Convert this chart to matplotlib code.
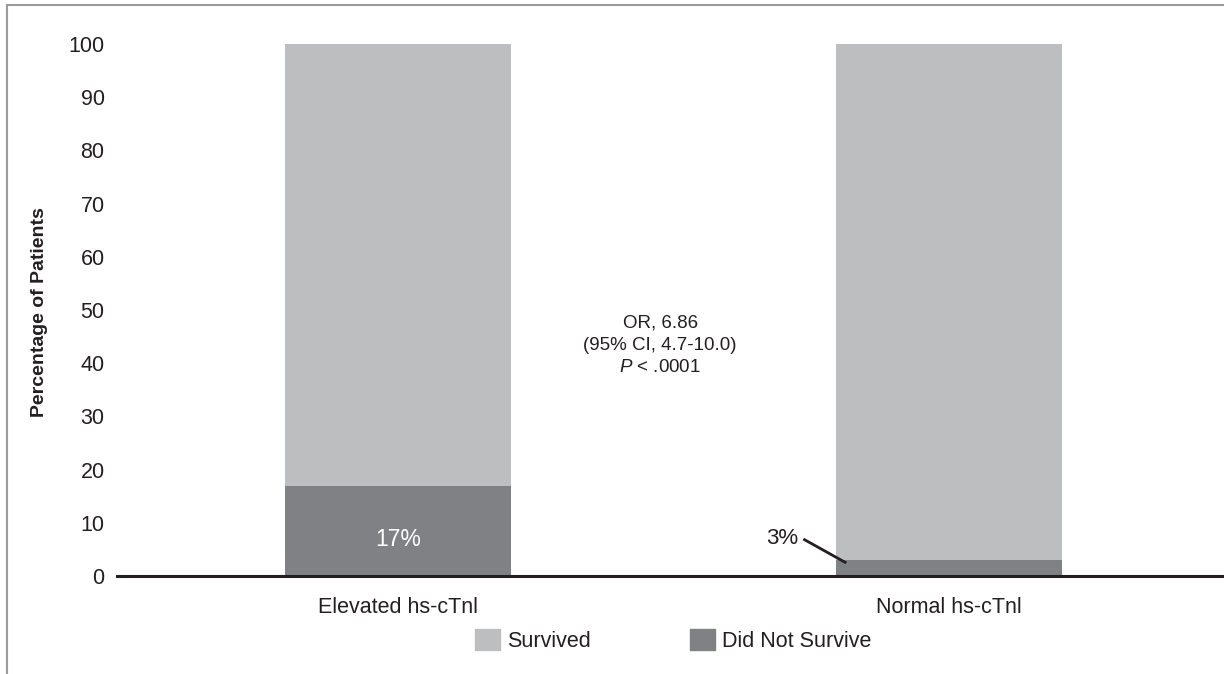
import matplotlib
matplotlib.use('Agg')
import matplotlib.pyplot as plt
from matplotlib.lines import Line2D
from matplotlib.patches import Patch

plt.rcParams['font.family'] = ['Liberation Sans', 'DejaVu Sans']
plt.rcParams['mathtext.fontset'] = 'custom'
plt.rcParams['mathtext.it'] = 'Liberation Sans:italic'
plt.rcParams['mathtext.rm'] = 'Liberation Sans'

# Mortality by troponin group (percent of patients)
groups = ['Elevated hs-cTnl', 'Normal hs-cTnl']
did_not_survive = [17, 3]
survived = [83, 97]
yticks = [0, 10, 20, 30, 40, 50, 60, 70, 80, 90, 100]

c_surv = '#bdbec0'
c_died = '#808184'
c_text = '#231f20'

fig = plt.figure(figsize=(12.24, 6.74), dpi=100)
ax = fig.add_axes([0.0956, 0.1454, 0.9044, 0.8288])

x = list(range(len(groups)))
width = 0.41
ax.bar(x, did_not_survive, width, color=c_died, label='Did Not Survive', zorder=2)
ax.bar(x, survived, width, bottom=did_not_survive, color=c_surv, label='Survived', zorder=2)

ax.set_xlim(-0.5105, 1.5)
ax.set_ylim(0, 105)
ax.set_yticks(yticks)
ax.set_xticks(x)
ax.set_xticklabels(groups)
ax.tick_params(axis='both', length=0, colors=c_text)
ax.tick_params(axis='y', pad=9, labelsize=15.5)
ax.tick_params(axis='x', pad=15, labelsize=15.5)

for side in ['left', 'right', 'top']:
    ax.spines[side].set_visible(False)
ax.spines['bottom'].set_color(c_text)
ax.spines['bottom'].set_linewidth(2.2)
ax.spines['bottom'].set_zorder(3)

# value labels
ax.text(x[0], 6.8, f'{did_not_survive[0]}%', color='white', ha='center', va='center', fontsize=16.5)
ax.text(x[1] - 0.273, 7.0, f'{did_not_survive[1]}%', ha='right', va='center',
        fontsize=16, color=c_text)
ax.plot([x[1] - 0.264, x[1] - width / 2 + 0.019], [6.95, did_not_survive[1] - 0.55],
        color=c_text, lw=2.0, solid_capstyle='butt', zorder=4)

# odds ratio summary
ax.text(0.476, 47.6, 'OR, 6.86', ha='center', va='center', fontsize=13.5, color=c_text)
ax.text(0.476, 43.4, '(95% CI, 4.7-10.0)', ha='center', va='center', fontsize=13.5, color=c_text)
ax.text(0.476, 39.2, r'$\mathit{P}$ < .0001', ha='center', va='center', fontsize=13.5, color=c_text)

fig.text(40 / 1224, 1 - 312 / 674, 'Percentage of Patients', rotation=90,
         ha='center', va='center', fontsize=14, fontweight='bold', color=c_text)

handles = [Patch(color=c_surv, label='Survived'), Patch(color=c_died, label='Did Not Survive')]
fig.legend(handles=handles, loc='center', bbox_to_anchor=(673.5 / 1224, 33.5 / 674), ncol=2,
           frameon=False, fontsize=15.5, handlelength=1.16, handleheight=1.16,
           handletextpad=0.33, columnspacing=4.6, labelcolor=c_text,
           borderpad=0, borderaxespad=0)

# outer frame lines
fig.add_artist(Line2D([6.5 / 1224, 6.5 / 1224], [0, 1 - 5 / 674], transform=fig.transFigure,
                      color='#9a9a9a', lw=1.5))
fig.add_artist(Line2D([6.5 / 1224, 1], [1 - 5 / 674, 1 - 5 / 674], transform=fig.transFigure,
                      color='#9a9a9a', lw=1.5))

fig.savefig('out.png', dpi=100)
